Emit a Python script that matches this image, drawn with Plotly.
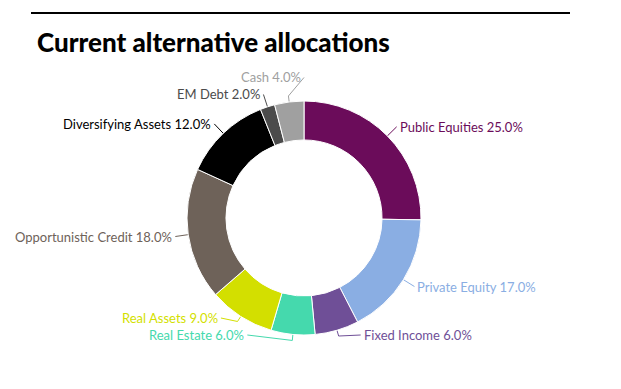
import math
import plotly.graph_objects as go

# ---- data ----
categories = ["Public Equities", "Private Equity", "Fixed Income", "Real Estate",
              "Real Assets", "Opportunistic Credit", "Diversifying Assets", "EM Debt", "Cash"]
values = [25.0, 17.0, 6.0, 6.0, 9.0, 18.0, 12.0, 2.0, 4.0]
colors = ["#6b0c5a", "#8aaee3", "#6f4f97", "#45d9ad", "#d3df00",
          "#6e6259", "#000000", "#4b4b4b", "#a0a0a0"]
title_text = "Current alternative allocations"

# ---- layout geometry (page pixels; page body has an 8px margin) ----
W, H = 621, 389
OFF = 8
FW, FH = W - OFF, H - OFF
cx, cy, R = 304, 218, 117
hole = 0.667
FONT = "Lato"

fig = go.Figure()
fig.add_trace(go.Pie(
    labels=categories, values=values, sort=False, direction="clockwise", rotation=0,
    hole=hole, textinfo="none", hoverinfo="label+percent",
    marker=dict(colors=colors, line=dict(color="white", width=1)),
    domain=dict(x=[(cx - R - OFF) / FW, (cx + R - OFF) / FW],
                y=[1 - (cy + R - OFF) / FH, 1 - (cy - R - OFF) / FH]),
    showlegend=False,
))

# ---- data labels with connectors ----
total = sum(values)
rl = R + 13
items = []
cum = 0.0
for name, v, col in zip(categories, values, colors):
    th = 2 * math.pi * (cum + v / 2) / total
    cum += v
    s, c = math.sin(th), math.cos(th)
    ly = cy - rl * c
    ly = min(ly, cy + 0.9 * rl)
    items.append(dict(name=name, v=v, col=col, th=th, s=s, c=c, ly=ly,
                      side=1 if s >= 0 else -1))

right = [it for it in items if it["side"] == 1]
left = [it for it in items if it["side"] == -1]
for i in range(1, len(right)):
    right[i]["ly"] = max(right[i]["ly"], right[i - 1]["ly"] + 17)
for i in range(1, len(left)):
    left[i]["ly"] = min(left[i]["ly"], left[i - 1]["ly"] - 17)

annotations = []
for it in items:
    dy = it["ly"] - cy
    dx = math.sqrt(max(0.0, rl * rl - dy * dy))
    lx = cx + it["side"] * dx
    ox, oy = cx + R * it["s"], cy - R * it["c"]
    ex, ey = cx + (R + 6) * it["s"], cy - (R + 6) * it["c"]
    fig.add_trace(go.Scatter(x=[ox, ex, lx], y=[oy, ey, it["ly"]], mode="lines",
                             line=dict(color=it["col"], width=1), hoverinfo="skip",
                             showlegend=False))
    annotations.append(dict(
        x=lx + it["side"] * 1, y=it["ly"], xref="x", yref="y", showarrow=False,
        xanchor="left" if it["side"] == 1 else "right", yanchor="middle",
        text=f"{it['name']} {it['v']:.1f}%",
        font=dict(family=FONT, size=13, color=it["col"]),
    ))

annotations.append(dict(
    x=35, y=42, xref="x", yref="y", showarrow=False, xanchor="left", yanchor="middle",
    text=title_text, font=dict(family=FONT, size=26, color="#000000", weight=900),
))

fig.update_layout(
    width=FW, height=FH, margin=dict(l=0, r=0, t=0, b=0),
    paper_bgcolor="white", plot_bgcolor="rgba(0,0,0,0)",
    xaxis=dict(range=[OFF, W], visible=False, fixedrange=True, domain=[0, 1]),
    yaxis=dict(range=[H, OFF], visible=False, fixedrange=True, domain=[0, 1]),
    annotations=annotations,
    shapes=[dict(type="line", xref="x", yref="y", x0=31, x1=570, y0=13, y1=13,
                 line=dict(color="black", width=2))],
)

fig.write_html("out.html")
